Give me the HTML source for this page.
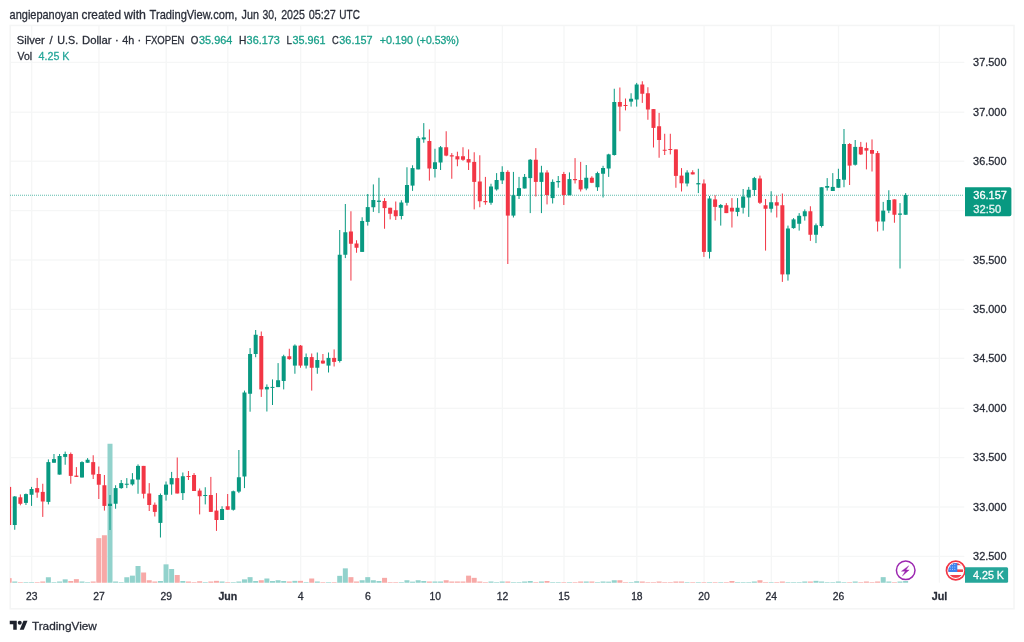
<!DOCTYPE html>
<html lang="en"><head><meta charset="utf-8"><title>Silver / U.S. Dollar chart</title>
<style>html,body{margin:0;padding:0;background:#fff}body{width:1024px;height:642px;position:relative;overflow:hidden;font-family:"Liberation Sans",Arial,sans-serif}</style>
</head><body>
<svg width="1024" height="642" viewBox="0 0 1024 642" style="position:absolute;left:0;top:0;filter:blur(0.4px)">
<defs><clipPath id="pane"><rect x="10" y="26" width="1004.5" height="583"/></clipPath><clipPath id="flag"><circle cx="955.75" cy="570.5" r="7.4"/></clipPath></defs>
<g fill="#f5f6f6">
<rect x="10" y="61.75" width="954.3" height="1.3"/>
<rect x="10" y="111.55" width="954.3" height="1.3"/>
<rect x="10" y="160.55" width="954.3" height="1.3"/>
<rect x="10" y="209.95" width="954.3" height="1.3"/>
<rect x="10" y="259.35" width="954.3" height="1.3"/>
<rect x="10" y="308.75" width="954.3" height="1.3"/>
<rect x="10" y="357.65" width="954.3" height="1.3"/>
<rect x="10" y="407.65" width="954.3" height="1.3"/>
<rect x="10" y="456.95" width="954.3" height="1.3"/>
<rect x="10" y="506.35" width="954.3" height="1.3"/>
<rect x="10" y="555.75" width="954.3" height="1.3"/>
<rect x="31.06" y="26" width="1.3" height="556.7"/>
<rect x="98.3" y="26" width="1.3" height="556.7"/>
<rect x="165.53" y="26" width="1.3" height="556.7"/>
<rect x="227.16" y="26" width="1.3" height="556.7"/>
<rect x="300" y="26" width="1.3" height="556.7"/>
<rect x="367.24" y="26" width="1.3" height="556.7"/>
<rect x="434.47" y="26" width="1.3" height="556.7"/>
<rect x="501.71" y="26" width="1.3" height="556.7"/>
<rect x="563.34" y="26" width="1.3" height="556.7"/>
<rect x="636.18" y="26" width="1.3" height="556.7"/>
<rect x="703.42" y="26" width="1.3" height="556.7"/>
<rect x="770.65" y="26" width="1.3" height="556.7"/>
<rect x="837.89" y="26" width="1.3" height="556.7"/>
<rect x="938.75" y="26" width="1.3" height="556.7"/>
</g>
<rect x="10.2" y="25.45" width="1003.8" height="583.35" fill="none" stroke="#f4f5f5" stroke-width="1.5"/>
<g clip-path="url(#pane)">
<rect x="6.65" y="578.15" width="5" height="4.6" fill="#f7a9a7"/>
<rect x="12.25" y="581.5" width="5" height="1.25" fill="#92d2cc"/>
<rect x="17.85" y="582.15" width="5" height="0.6" fill="#f7a9a7"/>
<rect x="23.46" y="582.15" width="5" height="0.6" fill="#92d2cc"/>
<rect x="29.06" y="582.15" width="5" height="0.6" fill="#92d2cc"/>
<rect x="34.66" y="582.15" width="5" height="0.6" fill="#f7a9a7"/>
<rect x="40.27" y="581.5" width="5" height="1.25" fill="#f7a9a7"/>
<rect x="45.87" y="577.25" width="5" height="5.5" fill="#92d2cc"/>
<rect x="51.47" y="582.15" width="5" height="0.6" fill="#92d2cc"/>
<rect x="57.07" y="581.5" width="5" height="1.25" fill="#92d2cc"/>
<rect x="62.68" y="579.35" width="5" height="3.4" fill="#92d2cc"/>
<rect x="68.28" y="581" width="5" height="1.75" fill="#f7a9a7"/>
<rect x="73.88" y="579.15" width="5" height="3.6" fill="#f7a9a7"/>
<rect x="79.49" y="581.5" width="5" height="1.25" fill="#92d2cc"/>
<rect x="85.09" y="582.15" width="5" height="0.6" fill="#92d2cc"/>
<rect x="90.69" y="581.5" width="5" height="1.25" fill="#f7a9a7"/>
<rect x="96.3" y="538.15" width="5" height="44.6" fill="#f7a9a7"/>
<rect x="101.9" y="535.25" width="5" height="47.5" fill="#f7a9a7"/>
<rect x="107.5" y="443.75" width="5" height="139" fill="#92d2cc"/>
<rect x="113.1" y="581.5" width="5" height="1.25" fill="#92d2cc"/>
<rect x="118.71" y="582.15" width="5" height="0.6" fill="#92d2cc"/>
<rect x="124.31" y="577.25" width="5" height="5.5" fill="#92d2cc"/>
<rect x="129.91" y="575.65" width="5" height="7.1" fill="#92d2cc"/>
<rect x="135.52" y="566" width="5" height="16.75" fill="#92d2cc"/>
<rect x="141.12" y="572.5" width="5" height="10.25" fill="#f7a9a7"/>
<rect x="146.72" y="580.25" width="5" height="2.5" fill="#f7a9a7"/>
<rect x="152.32" y="581.5" width="5" height="1.25" fill="#f7a9a7"/>
<rect x="157.93" y="581" width="5" height="1.75" fill="#92d2cc"/>
<rect x="163.53" y="564.35" width="5" height="18.4" fill="#92d2cc"/>
<rect x="169.13" y="569" width="5" height="13.75" fill="#92d2cc"/>
<rect x="174.74" y="575" width="5" height="7.75" fill="#f7a9a7"/>
<rect x="180.34" y="581" width="5" height="1.75" fill="#92d2cc"/>
<rect x="185.94" y="581.5" width="5" height="1.25" fill="#f7a9a7"/>
<rect x="191.55" y="582.15" width="5" height="0.6" fill="#f7a9a7"/>
<rect x="197.15" y="581.25" width="5" height="1.5" fill="#f7a9a7"/>
<rect x="202.75" y="582.15" width="5" height="0.6" fill="#92d2cc"/>
<rect x="208.35" y="581.5" width="5" height="1.25" fill="#f7a9a7"/>
<rect x="213.96" y="580.85" width="5" height="1.9" fill="#f7a9a7"/>
<rect x="219.56" y="581.5" width="5" height="1.25" fill="#92d2cc"/>
<rect x="225.16" y="582.15" width="5" height="0.6" fill="#f7a9a7"/>
<rect x="230.77" y="582.15" width="5" height="0.6" fill="#92d2cc"/>
<rect x="236.37" y="581.5" width="5" height="1.25" fill="#92d2cc"/>
<rect x="241.97" y="579.35" width="5" height="3.4" fill="#92d2cc"/>
<rect x="247.58" y="577.15" width="5" height="5.6" fill="#92d2cc"/>
<rect x="253.18" y="581" width="5" height="1.75" fill="#92d2cc"/>
<rect x="258.78" y="580.25" width="5" height="2.5" fill="#f7a9a7"/>
<rect x="264.38" y="578.5" width="5" height="4.25" fill="#92d2cc"/>
<rect x="269.99" y="581" width="5" height="1.75" fill="#92d2cc"/>
<rect x="275.59" y="580.25" width="5" height="2.5" fill="#92d2cc"/>
<rect x="281.19" y="581" width="5" height="1.75" fill="#92d2cc"/>
<rect x="286.8" y="581.5" width="5" height="1.25" fill="#f7a9a7"/>
<rect x="292.4" y="580.85" width="5" height="1.9" fill="#92d2cc"/>
<rect x="298" y="580.85" width="5" height="1.9" fill="#f7a9a7"/>
<rect x="303.61" y="582.15" width="5" height="0.6" fill="#92d2cc"/>
<rect x="309.21" y="578.5" width="5" height="4.25" fill="#f7a9a7"/>
<rect x="314.81" y="581.5" width="5" height="1.25" fill="#92d2cc"/>
<rect x="320.41" y="582.15" width="5" height="0.6" fill="#f7a9a7"/>
<rect x="326.02" y="582.15" width="5" height="0.6" fill="#92d2cc"/>
<rect x="331.62" y="582.15" width="5" height="0.6" fill="#f7a9a7"/>
<rect x="337.22" y="575.85" width="5" height="6.9" fill="#92d2cc"/>
<rect x="342.83" y="568.35" width="5" height="14.4" fill="#92d2cc"/>
<rect x="348.43" y="577.15" width="5" height="5.6" fill="#f7a9a7"/>
<rect x="354.03" y="581.5" width="5" height="1.25" fill="#f7a9a7"/>
<rect x="359.64" y="580.25" width="5" height="2.5" fill="#92d2cc"/>
<rect x="365.24" y="577.15" width="5" height="5.6" fill="#92d2cc"/>
<rect x="370.84" y="580.25" width="5" height="2.5" fill="#92d2cc"/>
<rect x="376.44" y="581" width="5" height="1.75" fill="#92d2cc"/>
<rect x="382.05" y="577.85" width="5" height="4.9" fill="#f7a9a7"/>
<rect x="387.65" y="582.15" width="5" height="0.6" fill="#f7a9a7"/>
<rect x="393.25" y="582.15" width="5" height="0.6" fill="#f7a9a7"/>
<rect x="398.86" y="582.15" width="5" height="0.6" fill="#92d2cc"/>
<rect x="404.46" y="580.25" width="5" height="2.5" fill="#92d2cc"/>
<rect x="410.06" y="581.65" width="5" height="1.1" fill="#92d2cc"/>
<rect x="415.67" y="580.25" width="5" height="2.5" fill="#92d2cc"/>
<rect x="421.27" y="581" width="5" height="1.75" fill="#92d2cc"/>
<rect x="426.87" y="581.5" width="5" height="1.25" fill="#f7a9a7"/>
<rect x="432.47" y="581.5" width="5" height="1.25" fill="#92d2cc"/>
<rect x="438.08" y="581.5" width="5" height="1.25" fill="#92d2cc"/>
<rect x="443.68" y="580.25" width="5" height="2.5" fill="#f7a9a7"/>
<rect x="449.28" y="581.5" width="5" height="1.25" fill="#f7a9a7"/>
<rect x="454.89" y="581.5" width="5" height="1.25" fill="#f7a9a7"/>
<rect x="460.49" y="581.5" width="5" height="1.25" fill="#f7a9a7"/>
<rect x="466.09" y="575.65" width="5" height="7.1" fill="#f7a9a7"/>
<rect x="471.7" y="577.85" width="5" height="4.9" fill="#f7a9a7"/>
<rect x="477.3" y="581.5" width="5" height="1.25" fill="#f7a9a7"/>
<rect x="482.9" y="582.15" width="5" height="0.6" fill="#f7a9a7"/>
<rect x="488.5" y="581.5" width="5" height="1.25" fill="#92d2cc"/>
<rect x="494.11" y="582.15" width="5" height="0.6" fill="#92d2cc"/>
<rect x="499.71" y="581.5" width="5" height="1.25" fill="#92d2cc"/>
<rect x="505.31" y="581.5" width="5" height="1.25" fill="#f7a9a7"/>
<rect x="510.92" y="582.15" width="5" height="0.6" fill="#92d2cc"/>
<rect x="516.52" y="582.15" width="5" height="0.6" fill="#92d2cc"/>
<rect x="522.12" y="581.5" width="5" height="1.25" fill="#92d2cc"/>
<rect x="527.73" y="581" width="5" height="1.75" fill="#92d2cc"/>
<rect x="533.33" y="582.15" width="5" height="0.6" fill="#f7a9a7"/>
<rect x="538.93" y="581.5" width="5" height="1.25" fill="#92d2cc"/>
<rect x="544.53" y="581" width="5" height="1.75" fill="#f7a9a7"/>
<rect x="550.14" y="582.15" width="5" height="0.6" fill="#92d2cc"/>
<rect x="555.74" y="582.15" width="5" height="0.6" fill="#92d2cc"/>
<rect x="561.34" y="582.15" width="5" height="0.6" fill="#f7a9a7"/>
<rect x="566.95" y="582.15" width="5" height="0.6" fill="#92d2cc"/>
<rect x="572.55" y="582.15" width="5" height="0.6" fill="#f7a9a7"/>
<rect x="578.15" y="581.5" width="5" height="1.25" fill="#f7a9a7"/>
<rect x="583.76" y="581.5" width="5" height="1.25" fill="#92d2cc"/>
<rect x="589.36" y="581.5" width="5" height="1.25" fill="#f7a9a7"/>
<rect x="594.96" y="582.15" width="5" height="0.6" fill="#92d2cc"/>
<rect x="600.56" y="581.5" width="5" height="1.25" fill="#92d2cc"/>
<rect x="606.17" y="581.65" width="5" height="1.1" fill="#92d2cc"/>
<rect x="611.77" y="580.25" width="5" height="2.5" fill="#92d2cc"/>
<rect x="617.37" y="580.25" width="5" height="2.5" fill="#f7a9a7"/>
<rect x="622.98" y="582.15" width="5" height="0.6" fill="#f7a9a7"/>
<rect x="628.58" y="582.15" width="5" height="0.6" fill="#92d2cc"/>
<rect x="634.18" y="581.25" width="5" height="1.5" fill="#92d2cc"/>
<rect x="639.79" y="581.5" width="5" height="1.25" fill="#f7a9a7"/>
<rect x="645.39" y="582.15" width="5" height="0.6" fill="#f7a9a7"/>
<rect x="650.99" y="582.15" width="5" height="0.6" fill="#f7a9a7"/>
<rect x="656.6" y="581.5" width="5" height="1.25" fill="#f7a9a7"/>
<rect x="662.2" y="582.15" width="5" height="0.6" fill="#f7a9a7"/>
<rect x="667.8" y="582.15" width="5" height="0.6" fill="#f7a9a7"/>
<rect x="673.4" y="581.5" width="5" height="1.25" fill="#f7a9a7"/>
<rect x="679.01" y="581.5" width="5" height="1.25" fill="#f7a9a7"/>
<rect x="684.61" y="582.15" width="5" height="0.6" fill="#92d2cc"/>
<rect x="690.21" y="582.15" width="5" height="0.6" fill="#f7a9a7"/>
<rect x="695.82" y="582.15" width="5" height="0.6" fill="#92d2cc"/>
<rect x="701.42" y="582.15" width="5" height="0.6" fill="#f7a9a7"/>
<rect x="707.02" y="582.15" width="5" height="0.6" fill="#92d2cc"/>
<rect x="712.62" y="582.15" width="5" height="0.6" fill="#f7a9a7"/>
<rect x="718.23" y="582.15" width="5" height="0.6" fill="#92d2cc"/>
<rect x="723.83" y="582.15" width="5" height="0.6" fill="#f7a9a7"/>
<rect x="729.43" y="581" width="5" height="1.75" fill="#f7a9a7"/>
<rect x="735.04" y="582.15" width="5" height="0.6" fill="#92d2cc"/>
<rect x="740.64" y="582.15" width="5" height="0.6" fill="#92d2cc"/>
<rect x="746.24" y="582.15" width="5" height="0.6" fill="#92d2cc"/>
<rect x="751.85" y="581.5" width="5" height="1.25" fill="#92d2cc"/>
<rect x="757.45" y="580.25" width="5" height="2.5" fill="#f7a9a7"/>
<rect x="763.05" y="582.15" width="5" height="0.6" fill="#f7a9a7"/>
<rect x="768.65" y="582.15" width="5" height="0.6" fill="#92d2cc"/>
<rect x="774.26" y="582.15" width="5" height="0.6" fill="#f7a9a7"/>
<rect x="779.86" y="581.5" width="5" height="1.25" fill="#f7a9a7"/>
<rect x="785.46" y="582.15" width="5" height="0.6" fill="#92d2cc"/>
<rect x="791.07" y="582.15" width="5" height="0.6" fill="#92d2cc"/>
<rect x="796.67" y="582.15" width="5" height="0.6" fill="#92d2cc"/>
<rect x="802.27" y="581.5" width="5" height="1.25" fill="#92d2cc"/>
<rect x="807.88" y="581.5" width="5" height="1.25" fill="#f7a9a7"/>
<rect x="813.48" y="580.85" width="5" height="1.9" fill="#92d2cc"/>
<rect x="819.08" y="581.5" width="5" height="1.25" fill="#92d2cc"/>
<rect x="824.68" y="582.15" width="5" height="0.6" fill="#92d2cc"/>
<rect x="830.29" y="582.15" width="5" height="0.6" fill="#92d2cc"/>
<rect x="835.89" y="581.5" width="5" height="1.25" fill="#92d2cc"/>
<rect x="841.49" y="582.15" width="5" height="0.6" fill="#92d2cc"/>
<rect x="847.1" y="582.15" width="5" height="0.6" fill="#f7a9a7"/>
<rect x="852.7" y="581.5" width="5" height="1.25" fill="#92d2cc"/>
<rect x="858.3" y="582.15" width="5" height="0.6" fill="#f7a9a7"/>
<rect x="863.91" y="581.5" width="5" height="1.25" fill="#f7a9a7"/>
<rect x="869.51" y="582.15" width="5" height="0.6" fill="#f7a9a7"/>
<rect x="875.11" y="581.5" width="5" height="1.25" fill="#f7a9a7"/>
<rect x="880.71" y="577.15" width="5" height="5.6" fill="#92d2cc"/>
<rect x="886.32" y="581.5" width="5" height="1.25" fill="#92d2cc"/>
<rect x="891.92" y="582.15" width="5" height="0.6" fill="#f7a9a7"/>
<rect x="897.52" y="581.5" width="5" height="1.25" fill="#92d2cc"/>
<rect x="903.13" y="581" width="5" height="1.75" fill="#92d2cc"/>
<line x1="10" y1="195.3" x2="964" y2="195.3" stroke="#089981" stroke-width="1.1" stroke-opacity="0.65" stroke-dasharray="1 1"/>
<rect x="8.65" y="486.9" width="1" height="38.1" fill="#f23645"/>
<rect x="7.15" y="486.9" width="4" height="38.1" fill="#f23645"/>
<rect x="14.25" y="496" width="1" height="33.75" fill="#089981"/>
<rect x="12.75" y="496.5" width="4" height="28.5" fill="#089981"/>
<rect x="19.85" y="494.4" width="1" height="10.9" fill="#f23645"/>
<rect x="18.35" y="497.3" width="4" height="6.5" fill="#f23645"/>
<rect x="25.46" y="493.5" width="1" height="11.5" fill="#089981"/>
<rect x="23.96" y="494.1" width="4" height="8.8" fill="#089981"/>
<rect x="31.06" y="486.9" width="1" height="19" fill="#089981"/>
<rect x="29.56" y="489" width="4" height="5.75" fill="#089981"/>
<rect x="36.66" y="477.9" width="1" height="19.85" fill="#f23645"/>
<rect x="35.16" y="488.1" width="4" height="4.4" fill="#f23645"/>
<rect x="42.27" y="483.75" width="1" height="33.15" fill="#f23645"/>
<rect x="40.77" y="491.9" width="4" height="9.6" fill="#f23645"/>
<rect x="47.87" y="459.4" width="1" height="45" fill="#089981"/>
<rect x="46.37" y="462.1" width="4" height="39.8" fill="#089981"/>
<rect x="53.47" y="454" width="1" height="8.75" fill="#089981"/>
<rect x="51.97" y="459.1" width="4" height="3.65" fill="#089981"/>
<rect x="59.07" y="454" width="1" height="20.6" fill="#089981"/>
<rect x="57.57" y="456" width="4" height="18.6" fill="#089981"/>
<rect x="64.68" y="451.6" width="1" height="13.15" fill="#089981"/>
<rect x="63.18" y="454" width="4" height="2.9" fill="#089981"/>
<rect x="70.28" y="452.5" width="1" height="31.25" fill="#f23645"/>
<rect x="68.78" y="454" width="4" height="21.9" fill="#f23645"/>
<rect x="75.88" y="467.1" width="1" height="9.8" fill="#f23645"/>
<rect x="74.38" y="475.6" width="4" height="1.3" fill="#f23645"/>
<rect x="81.49" y="461.25" width="1" height="16.25" fill="#089981"/>
<rect x="79.99" y="462.1" width="4" height="15.4" fill="#089981"/>
<rect x="87.09" y="458.1" width="1" height="4.65" fill="#089981"/>
<rect x="85.59" y="459.75" width="4" height="3" fill="#089981"/>
<rect x="92.69" y="455.25" width="1" height="23.75" fill="#f23645"/>
<rect x="91.19" y="462.1" width="4" height="12.5" fill="#f23645"/>
<rect x="98.3" y="466.5" width="1" height="32.5" fill="#f23645"/>
<rect x="96.8" y="474" width="4" height="10.75" fill="#f23645"/>
<rect x="103.9" y="475" width="1" height="35.6" fill="#f23645"/>
<rect x="102.4" y="485.25" width="4" height="20.65" fill="#f23645"/>
<rect x="109.5" y="495" width="1" height="35" fill="#089981"/>
<rect x="108" y="503.75" width="4" height="2.25" fill="#089981"/>
<rect x="115.1" y="485.25" width="1" height="23.5" fill="#089981"/>
<rect x="113.6" y="488.1" width="4" height="15.65" fill="#089981"/>
<rect x="120.71" y="480" width="1" height="8.75" fill="#089981"/>
<rect x="119.21" y="483.1" width="4" height="5" fill="#089981"/>
<rect x="126.31" y="478.1" width="1" height="10" fill="#089981"/>
<rect x="124.81" y="483.75" width="4" height="1" fill="#089981"/>
<rect x="131.91" y="473.1" width="1" height="12.5" fill="#089981"/>
<rect x="130.41" y="479.4" width="4" height="5" fill="#089981"/>
<rect x="137.52" y="464.4" width="1" height="29.35" fill="#089981"/>
<rect x="136.02" y="465.9" width="4" height="13.7" fill="#089981"/>
<rect x="143.12" y="465.9" width="1" height="32.6" fill="#f23645"/>
<rect x="141.62" y="465.9" width="4" height="27.85" fill="#f23645"/>
<rect x="148.72" y="483.1" width="1" height="27.9" fill="#f23645"/>
<rect x="147.22" y="493.5" width="4" height="11.5" fill="#f23645"/>
<rect x="154.32" y="502.5" width="1" height="14" fill="#f23645"/>
<rect x="152.82" y="504.75" width="4" height="7.15" fill="#f23645"/>
<rect x="159.93" y="493.5" width="1" height="44" fill="#089981"/>
<rect x="158.43" y="495" width="4" height="27.9" fill="#089981"/>
<rect x="165.53" y="481.5" width="1" height="19.1" fill="#089981"/>
<rect x="164.03" y="484.6" width="4" height="10.15" fill="#089981"/>
<rect x="171.13" y="471.9" width="1" height="22.85" fill="#089981"/>
<rect x="169.63" y="478.1" width="4" height="6.3" fill="#089981"/>
<rect x="176.74" y="457.5" width="1" height="36" fill="#f23645"/>
<rect x="175.24" y="478.1" width="4" height="15.4" fill="#f23645"/>
<rect x="182.34" y="472.5" width="1" height="27.5" fill="#089981"/>
<rect x="180.84" y="476.25" width="4" height="16.85" fill="#089981"/>
<rect x="187.94" y="471" width="1" height="9" fill="#f23645"/>
<rect x="186.44" y="476" width="4" height="1" fill="#f23645"/>
<rect x="193.55" y="473.1" width="1" height="17.9" fill="#f23645"/>
<rect x="192.05" y="475" width="4" height="16" fill="#f23645"/>
<rect x="199.15" y="488.5" width="1" height="25.9" fill="#f23645"/>
<rect x="197.65" y="490.6" width="4" height="5.65" fill="#f23645"/>
<rect x="204.75" y="487.25" width="1" height="17.15" fill="#089981"/>
<rect x="203.25" y="495" width="4" height="1" fill="#089981"/>
<rect x="210.35" y="476.9" width="1" height="35" fill="#f23645"/>
<rect x="208.85" y="495" width="4" height="16.9" fill="#f23645"/>
<rect x="215.96" y="493.1" width="1" height="37.8" fill="#f23645"/>
<rect x="214.46" y="510.6" width="4" height="9.4" fill="#f23645"/>
<rect x="221.56" y="506.25" width="1" height="13.75" fill="#089981"/>
<rect x="220.06" y="509" width="4" height="11" fill="#089981"/>
<rect x="227.16" y="494" width="1" height="15.75" fill="#f23645"/>
<rect x="225.66" y="506.25" width="4" height="3.5" fill="#f23645"/>
<rect x="232.77" y="490.6" width="1" height="20" fill="#089981"/>
<rect x="231.27" y="491.25" width="4" height="18.5" fill="#089981"/>
<rect x="238.37" y="450" width="1" height="43.1" fill="#089981"/>
<rect x="236.87" y="477.25" width="4" height="14.35" fill="#089981"/>
<rect x="243.97" y="390.6" width="1" height="97.5" fill="#089981"/>
<rect x="242.47" y="392.5" width="4" height="84" fill="#089981"/>
<rect x="249.58" y="348.1" width="1" height="63.6" fill="#089981"/>
<rect x="248.08" y="354" width="4" height="39.75" fill="#089981"/>
<rect x="255.18" y="330" width="1" height="27.25" fill="#089981"/>
<rect x="253.68" y="334.75" width="4" height="19.25" fill="#089981"/>
<rect x="260.78" y="331.5" width="1" height="65.4" fill="#f23645"/>
<rect x="259.28" y="336" width="4" height="53.4" fill="#f23645"/>
<rect x="266.38" y="384.4" width="1" height="27.1" fill="#089981"/>
<rect x="264.88" y="386.9" width="4" height="2.5" fill="#089981"/>
<rect x="271.99" y="379.4" width="1" height="25.6" fill="#089981"/>
<rect x="270.49" y="386.9" width="4" height="1" fill="#089981"/>
<rect x="277.59" y="363.1" width="1" height="24" fill="#089981"/>
<rect x="276.09" y="380.25" width="4" height="6.85" fill="#089981"/>
<rect x="283.19" y="354.75" width="1" height="34.65" fill="#089981"/>
<rect x="281.69" y="356.25" width="4" height="24.75" fill="#089981"/>
<rect x="288.8" y="348.75" width="1" height="11" fill="#f23645"/>
<rect x="287.3" y="356.25" width="4" height="2.85" fill="#f23645"/>
<rect x="294.4" y="344.4" width="1" height="29.35" fill="#089981"/>
<rect x="292.9" y="345.6" width="4" height="20" fill="#089981"/>
<rect x="300" y="345" width="1" height="22.75" fill="#f23645"/>
<rect x="298.5" y="345.6" width="4" height="20" fill="#f23645"/>
<rect x="305.61" y="353.5" width="1" height="15" fill="#089981"/>
<rect x="304.11" y="357.1" width="4" height="8.5" fill="#089981"/>
<rect x="311.21" y="353.5" width="1" height="37.1" fill="#f23645"/>
<rect x="309.71" y="357.1" width="4" height="10.65" fill="#f23645"/>
<rect x="316.81" y="352.5" width="1" height="21.25" fill="#089981"/>
<rect x="315.31" y="360" width="4" height="7.75" fill="#089981"/>
<rect x="322.41" y="354" width="1" height="9.75" fill="#f23645"/>
<rect x="320.91" y="360.6" width="4" height="2.9" fill="#f23645"/>
<rect x="328.02" y="352.5" width="1" height="20" fill="#089981"/>
<rect x="326.52" y="357.9" width="4" height="7.7" fill="#089981"/>
<rect x="333.62" y="349.4" width="1" height="17.1" fill="#f23645"/>
<rect x="332.12" y="357.9" width="4" height="4" fill="#f23645"/>
<rect x="339.22" y="230" width="1" height="132.5" fill="#089981"/>
<rect x="337.72" y="254.75" width="4" height="106.25" fill="#089981"/>
<rect x="344.83" y="204" width="1" height="54.1" fill="#089981"/>
<rect x="343.33" y="232.25" width="4" height="22.5" fill="#089981"/>
<rect x="350.43" y="211.25" width="1" height="69.35" fill="#f23645"/>
<rect x="348.93" y="231.5" width="4" height="12.25" fill="#f23645"/>
<rect x="356.03" y="240.25" width="1" height="12.5" fill="#f23645"/>
<rect x="354.53" y="243.5" width="4" height="4.25" fill="#f23645"/>
<rect x="361.64" y="217.25" width="1" height="34.65" fill="#089981"/>
<rect x="360.14" y="221" width="4" height="30.9" fill="#089981"/>
<rect x="367.24" y="194" width="1" height="31.6" fill="#089981"/>
<rect x="365.74" y="207.1" width="4" height="14.8" fill="#089981"/>
<rect x="372.84" y="184.4" width="1" height="27.5" fill="#089981"/>
<rect x="371.34" y="200" width="4" height="7.25" fill="#089981"/>
<rect x="378.44" y="177.75" width="1" height="35.35" fill="#089981"/>
<rect x="376.94" y="200.6" width="4" height="1.3" fill="#089981"/>
<rect x="384.05" y="198.1" width="1" height="30.65" fill="#f23645"/>
<rect x="382.55" y="201" width="4" height="7.1" fill="#f23645"/>
<rect x="389.65" y="207.75" width="1" height="11.65" fill="#f23645"/>
<rect x="388.15" y="207.75" width="4" height="6" fill="#f23645"/>
<rect x="395.25" y="201.5" width="1" height="18.5" fill="#f23645"/>
<rect x="393.75" y="210.25" width="4" height="6" fill="#f23645"/>
<rect x="400.86" y="200.25" width="1" height="19.15" fill="#089981"/>
<rect x="399.36" y="202.5" width="4" height="13.5" fill="#089981"/>
<rect x="406.46" y="167.25" width="1" height="38.35" fill="#089981"/>
<rect x="404.96" y="185" width="4" height="17.75" fill="#089981"/>
<rect x="412.06" y="165.25" width="1" height="25.65" fill="#089981"/>
<rect x="410.56" y="168.1" width="4" height="17.5" fill="#089981"/>
<rect x="417.67" y="136.25" width="1" height="33.15" fill="#089981"/>
<rect x="416.17" y="138.1" width="4" height="31.3" fill="#089981"/>
<rect x="423.27" y="123.1" width="1" height="19.65" fill="#089981"/>
<rect x="421.77" y="137.4" width="4" height="2" fill="#089981"/>
<rect x="428.87" y="129.4" width="1" height="51.2" fill="#f23645"/>
<rect x="427.37" y="141" width="4" height="27.5" fill="#f23645"/>
<rect x="434.47" y="148.75" width="1" height="28.75" fill="#089981"/>
<rect x="432.97" y="162.25" width="4" height="6.75" fill="#089981"/>
<rect x="440.08" y="146" width="1" height="24" fill="#089981"/>
<rect x="438.58" y="147.25" width="4" height="15.25" fill="#089981"/>
<rect x="445.68" y="131.25" width="1" height="25" fill="#f23645"/>
<rect x="444.18" y="147.25" width="4" height="8.35" fill="#f23645"/>
<rect x="451.28" y="153.1" width="1" height="25.65" fill="#f23645"/>
<rect x="449.78" y="155.25" width="4" height="1.25" fill="#f23645"/>
<rect x="456.89" y="151.7" width="1" height="14.55" fill="#f23645"/>
<rect x="455.39" y="156.25" width="4" height="3.15" fill="#f23645"/>
<rect x="462.49" y="147.25" width="1" height="13.55" fill="#f23645"/>
<rect x="460.99" y="156.25" width="4" height="3.5" fill="#f23645"/>
<rect x="468.09" y="149.4" width="1" height="20.6" fill="#f23645"/>
<rect x="466.59" y="159.1" width="4" height="3.4" fill="#f23645"/>
<rect x="473.7" y="152.25" width="1" height="57.15" fill="#f23645"/>
<rect x="472.2" y="161.9" width="4" height="20" fill="#f23645"/>
<rect x="479.3" y="155.25" width="1" height="52" fill="#f23645"/>
<rect x="477.8" y="181.5" width="4" height="19.75" fill="#f23645"/>
<rect x="484.9" y="176.9" width="1" height="27.85" fill="#f23645"/>
<rect x="483.4" y="201" width="4" height="1.25" fill="#f23645"/>
<rect x="490.5" y="183.75" width="1" height="21" fill="#089981"/>
<rect x="489" y="186.5" width="4" height="16.25" fill="#089981"/>
<rect x="496.11" y="173.1" width="1" height="17.5" fill="#089981"/>
<rect x="494.61" y="180" width="4" height="9.4" fill="#089981"/>
<rect x="501.71" y="166.25" width="1" height="17.75" fill="#089981"/>
<rect x="500.21" y="171.9" width="4" height="8.5" fill="#089981"/>
<rect x="507.31" y="170.25" width="1" height="93.75" fill="#f23645"/>
<rect x="505.81" y="171.9" width="4" height="43.7" fill="#f23645"/>
<rect x="512.92" y="171.9" width="1" height="45.6" fill="#089981"/>
<rect x="511.42" y="195.25" width="4" height="20.35" fill="#089981"/>
<rect x="518.52" y="176.9" width="1" height="22.1" fill="#089981"/>
<rect x="517.02" y="188.1" width="4" height="7.9" fill="#089981"/>
<rect x="524.12" y="174" width="1" height="14.5" fill="#089981"/>
<rect x="522.62" y="176.9" width="4" height="11.6" fill="#089981"/>
<rect x="529.73" y="159" width="1" height="54.1" fill="#089981"/>
<rect x="528.23" y="159.75" width="4" height="18.35" fill="#089981"/>
<rect x="535.33" y="148.1" width="1" height="48.4" fill="#f23645"/>
<rect x="533.83" y="159.75" width="4" height="22.15" fill="#f23645"/>
<rect x="540.93" y="165.8" width="1" height="47.3" fill="#089981"/>
<rect x="539.43" y="172.5" width="4" height="9.4" fill="#089981"/>
<rect x="546.53" y="170.25" width="1" height="34.15" fill="#f23645"/>
<rect x="545.03" y="172.5" width="4" height="22.5" fill="#f23645"/>
<rect x="552.14" y="179.4" width="1" height="24.1" fill="#089981"/>
<rect x="550.64" y="181.9" width="4" height="16.2" fill="#089981"/>
<rect x="557.74" y="176" width="1" height="11.75" fill="#089981"/>
<rect x="556.24" y="181" width="4" height="1.25" fill="#089981"/>
<rect x="563.34" y="171.9" width="1" height="33.1" fill="#f23645"/>
<rect x="561.84" y="174" width="4" height="21" fill="#f23645"/>
<rect x="568.95" y="172.4" width="1" height="22.85" fill="#089981"/>
<rect x="567.45" y="179.1" width="4" height="16.15" fill="#089981"/>
<rect x="574.55" y="158.1" width="1" height="25.4" fill="#f23645"/>
<rect x="573.05" y="179" width="4" height="1.2" fill="#f23645"/>
<rect x="580.15" y="161.9" width="1" height="29.6" fill="#f23645"/>
<rect x="578.65" y="180" width="4" height="9.4" fill="#f23645"/>
<rect x="585.76" y="165" width="1" height="25.25" fill="#089981"/>
<rect x="584.26" y="177.75" width="4" height="10.75" fill="#089981"/>
<rect x="591.36" y="176.25" width="1" height="6.85" fill="#f23645"/>
<rect x="589.86" y="177.75" width="4" height="5" fill="#f23645"/>
<rect x="596.96" y="171.7" width="1" height="19.2" fill="#089981"/>
<rect x="595.46" y="173.1" width="4" height="14.15" fill="#089981"/>
<rect x="602.56" y="165.8" width="1" height="31.7" fill="#089981"/>
<rect x="601.06" y="168" width="4" height="5.75" fill="#089981"/>
<rect x="608.17" y="153.75" width="1" height="23.15" fill="#089981"/>
<rect x="606.67" y="154.4" width="4" height="14.1" fill="#089981"/>
<rect x="613.77" y="88.75" width="1" height="66.85" fill="#089981"/>
<rect x="612.27" y="102" width="4" height="53" fill="#089981"/>
<rect x="619.37" y="87.5" width="1" height="43.75" fill="#f23645"/>
<rect x="617.87" y="102" width="4" height="4.6" fill="#f23645"/>
<rect x="624.98" y="98.5" width="1" height="11.9" fill="#f23645"/>
<rect x="623.48" y="105" width="4" height="1" fill="#f23645"/>
<rect x="630.58" y="93.25" width="1" height="13.35" fill="#089981"/>
<rect x="629.08" y="98.75" width="4" height="2.85" fill="#089981"/>
<rect x="636.18" y="82.9" width="1" height="23.7" fill="#089981"/>
<rect x="634.68" y="84.5" width="4" height="15" fill="#089981"/>
<rect x="641.79" y="81.25" width="1" height="21.65" fill="#f23645"/>
<rect x="640.29" y="84.5" width="4" height="9.25" fill="#f23645"/>
<rect x="647.39" y="87.25" width="1" height="32.5" fill="#f23645"/>
<rect x="645.89" y="93.25" width="4" height="16.25" fill="#f23645"/>
<rect x="652.99" y="109.1" width="1" height="38.4" fill="#f23645"/>
<rect x="651.49" y="109.1" width="4" height="18.8" fill="#f23645"/>
<rect x="658.6" y="112.9" width="1" height="44.85" fill="#f23645"/>
<rect x="657.1" y="126.25" width="4" height="13.75" fill="#f23645"/>
<rect x="664.2" y="133.75" width="1" height="21.25" fill="#f23645"/>
<rect x="662.7" y="149.75" width="4" height="1" fill="#f23645"/>
<rect x="669.8" y="133.75" width="1" height="20.65" fill="#f23645"/>
<rect x="668.3" y="149" width="4" height="1" fill="#f23645"/>
<rect x="675.4" y="149.4" width="1" height="38.35" fill="#f23645"/>
<rect x="673.9" y="149.4" width="4" height="26.5" fill="#f23645"/>
<rect x="681.01" y="168.1" width="1" height="23.4" fill="#f23645"/>
<rect x="679.51" y="175.6" width="4" height="7.7" fill="#f23645"/>
<rect x="686.61" y="170.25" width="1" height="16.15" fill="#089981"/>
<rect x="685.11" y="172.5" width="4" height="11" fill="#089981"/>
<rect x="692.21" y="170.25" width="1" height="4.15" fill="#f23645"/>
<rect x="690.71" y="172.25" width="4" height="2.15" fill="#f23645"/>
<rect x="697.82" y="168.75" width="1" height="24.35" fill="#089981"/>
<rect x="696.32" y="183.1" width="4" height="1.3" fill="#089981"/>
<rect x="703.42" y="179.4" width="1" height="77.5" fill="#f23645"/>
<rect x="701.92" y="183.5" width="4" height="68.4" fill="#f23645"/>
<rect x="709.02" y="196" width="1" height="62.5" fill="#089981"/>
<rect x="707.52" y="198.5" width="4" height="53.4" fill="#089981"/>
<rect x="714.62" y="195.25" width="1" height="25.35" fill="#f23645"/>
<rect x="713.12" y="199.4" width="4" height="7.5" fill="#f23645"/>
<rect x="720.23" y="204" width="1" height="21.6" fill="#089981"/>
<rect x="718.73" y="205" width="4" height="2.75" fill="#089981"/>
<rect x="725.83" y="203.1" width="1" height="10" fill="#f23645"/>
<rect x="724.33" y="205.25" width="4" height="7.85" fill="#f23645"/>
<rect x="731.43" y="198.1" width="1" height="29.4" fill="#f23645"/>
<rect x="729.93" y="207.75" width="4" height="3.75" fill="#f23645"/>
<rect x="737.04" y="198.1" width="1" height="18.15" fill="#089981"/>
<rect x="735.54" y="207.75" width="4" height="4.15" fill="#089981"/>
<rect x="742.64" y="189" width="1" height="24.5" fill="#089981"/>
<rect x="741.14" y="196.5" width="4" height="11.25" fill="#089981"/>
<rect x="748.24" y="186.9" width="1" height="30" fill="#089981"/>
<rect x="746.74" y="189.75" width="4" height="7.75" fill="#089981"/>
<rect x="753.85" y="176.9" width="1" height="19.1" fill="#089981"/>
<rect x="752.35" y="178.1" width="4" height="11.9" fill="#089981"/>
<rect x="759.45" y="175.6" width="1" height="28.4" fill="#f23645"/>
<rect x="757.95" y="178.5" width="4" height="24.25" fill="#f23645"/>
<rect x="765.05" y="199" width="1" height="51.6" fill="#f23645"/>
<rect x="763.55" y="205.25" width="4" height="3.5" fill="#f23645"/>
<rect x="770.65" y="191.25" width="1" height="21.25" fill="#089981"/>
<rect x="769.15" y="202.25" width="4" height="6.5" fill="#089981"/>
<rect x="776.26" y="195.6" width="1" height="21.9" fill="#f23645"/>
<rect x="774.76" y="202.25" width="4" height="3.35" fill="#f23645"/>
<rect x="781.86" y="193.5" width="1" height="88.4" fill="#f23645"/>
<rect x="780.36" y="205.25" width="4" height="69.15" fill="#f23645"/>
<rect x="787.46" y="225.6" width="1" height="55" fill="#089981"/>
<rect x="785.96" y="228.5" width="4" height="45.9" fill="#089981"/>
<rect x="793.07" y="218.1" width="1" height="10.65" fill="#089981"/>
<rect x="791.57" y="219.4" width="4" height="8.7" fill="#089981"/>
<rect x="798.67" y="213.1" width="1" height="17.5" fill="#089981"/>
<rect x="797.17" y="215.8" width="4" height="7.95" fill="#089981"/>
<rect x="804.27" y="209.4" width="1" height="11.2" fill="#089981"/>
<rect x="802.77" y="211.25" width="4" height="5" fill="#089981"/>
<rect x="809.88" y="206.25" width="1" height="34.65" fill="#f23645"/>
<rect x="808.38" y="211.25" width="4" height="23.5" fill="#f23645"/>
<rect x="815.48" y="223.5" width="1" height="19.6" fill="#089981"/>
<rect x="813.98" y="225.25" width="4" height="9.5" fill="#089981"/>
<rect x="821.08" y="187.25" width="1" height="40.25" fill="#089981"/>
<rect x="819.58" y="187.25" width="4" height="38.75" fill="#089981"/>
<rect x="826.68" y="178.1" width="1" height="12.5" fill="#089981"/>
<rect x="825.18" y="186" width="4" height="1.75" fill="#089981"/>
<rect x="832.29" y="173.1" width="1" height="17.9" fill="#089981"/>
<rect x="830.79" y="186.9" width="4" height="4.1" fill="#089981"/>
<rect x="837.89" y="168.75" width="1" height="19" fill="#089981"/>
<rect x="836.39" y="179" width="4" height="8.75" fill="#089981"/>
<rect x="843.49" y="129" width="1" height="58.25" fill="#089981"/>
<rect x="841.99" y="144" width="4" height="35.75" fill="#089981"/>
<rect x="849.1" y="143.1" width="1" height="41.9" fill="#f23645"/>
<rect x="847.6" y="144" width="4" height="21.6" fill="#f23645"/>
<rect x="854.7" y="140" width="1" height="25.6" fill="#089981"/>
<rect x="853.2" y="146.9" width="4" height="17.85" fill="#089981"/>
<rect x="860.3" y="141.9" width="1" height="13.1" fill="#f23645"/>
<rect x="858.8" y="146.9" width="4" height="7.5" fill="#f23645"/>
<rect x="865.91" y="142.5" width="1" height="26.9" fill="#f23645"/>
<rect x="864.41" y="148.1" width="4" height="2.5" fill="#f23645"/>
<rect x="871.51" y="139.4" width="1" height="32.1" fill="#f23645"/>
<rect x="870.01" y="150" width="4" height="3.75" fill="#f23645"/>
<rect x="877.11" y="151" width="1" height="80.5" fill="#f23645"/>
<rect x="875.61" y="153.1" width="4" height="68.4" fill="#f23645"/>
<rect x="882.71" y="201.9" width="1" height="28.7" fill="#089981"/>
<rect x="881.21" y="210.6" width="4" height="10.9" fill="#089981"/>
<rect x="888.32" y="190.25" width="1" height="22.85" fill="#089981"/>
<rect x="886.82" y="200" width="4" height="10.6" fill="#089981"/>
<rect x="893.92" y="199.4" width="1" height="23.35" fill="#f23645"/>
<rect x="892.42" y="199.4" width="4" height="15.35" fill="#f23645"/>
<rect x="899.52" y="203.1" width="1" height="65.4" fill="#089981"/>
<rect x="898.02" y="213.5" width="4" height="1.25" fill="#089981"/>
<rect x="905.13" y="193.1" width="1" height="21.65" fill="#089981"/>
<rect x="903.63" y="195" width="4" height="19.75" fill="#089981"/>
</g>
<circle cx="905.7" cy="570.3" r="9.3" fill="#fff" stroke="#9c27b0" stroke-width="1.5"/>
<polygon points="908.8,565.7 901.4,571.25 905.2,571.25 902.4,575.9 909.2,569.95 906,569.95" fill="#9c27b0" stroke="#9c27b0" stroke-width="0.35" stroke-linejoin="round"/>
<circle cx="955.75" cy="570.5" r="9.3" fill="#fff" stroke="#f23645" stroke-width="1.7"/>
<g clip-path="url(#flag)">
<rect x="945" y="560" width="22" height="22" fill="#fff"/>
<rect x="945" y="562.4" width="22" height="2.8" fill="#f0414f"/>
<rect x="945" y="569.4" width="22" height="2.6" fill="#f0414f"/>
<rect x="945" y="575" width="22" height="2.9" fill="#f0414f"/>
<rect x="945" y="560" width="12.3" height="12" fill="#3b82f0"/>
<circle cx="950.2" cy="564.6" r="0.5" fill="#fff" fill-opacity="0.8"/>
<circle cx="950.2" cy="566.9" r="0.5" fill="#fff" fill-opacity="0.8"/>
<circle cx="950.2" cy="569.2" r="0.5" fill="#fff" fill-opacity="0.8"/>
<circle cx="952.5" cy="564.6" r="0.5" fill="#fff" fill-opacity="0.8"/>
<circle cx="952.5" cy="566.9" r="0.5" fill="#fff" fill-opacity="0.8"/>
<circle cx="952.5" cy="569.2" r="0.5" fill="#fff" fill-opacity="0.8"/>
<circle cx="954.8" cy="564.6" r="0.5" fill="#fff" fill-opacity="0.8"/>
<circle cx="954.8" cy="566.9" r="0.5" fill="#fff" fill-opacity="0.8"/>
<circle cx="954.8" cy="569.2" r="0.5" fill="#fff" fill-opacity="0.8"/>
</g>
<path d="M965 567.2H1006.6a1.5 1.5 0 0 1 1.5 1.5V581.3a1.5 1.5 0 0 1 -1.5 1.5H965Z" fill="#26a69a"/>
<path d="M965 187.2H1009.6a1.8 1.8 0 0 1 1.8 1.8V214.45a1.8 1.8 0 0 1 -1.8 1.8H965Z" fill="#089981"/>
<g transform="translate(9.75,618.75) scale(0.5)" fill="#1e222d"><path d="M14 22H7V11H0V4h14v18zM28 22h-8l7.5-18h8L28 22z"/><circle cx="20" cy="8" r="4"/></g>
<g font-family="'Liberation Sans', Arial, sans-serif" stroke-width="0.3" stroke-linejoin="round">
<text x="9.6" y="18.5" font-size="12.6" fill="#2a2e39" stroke="#2a2e39" textLength="68.9" lengthAdjust="spacingAndGlyphs">angiepanoyan</text>
<text x="81.5" y="18.5" font-size="12.6" fill="#2a2e39" stroke="#2a2e39" textLength="39.5" lengthAdjust="spacingAndGlyphs">created</text>
<text x="124" y="18.5" font-size="12.6" fill="#2a2e39" stroke="#2a2e39" textLength="22" lengthAdjust="spacingAndGlyphs">with</text>
<text x="149.6" y="18.5" font-size="12.6" fill="#2a2e39" stroke="#2a2e39" textLength="87.7" lengthAdjust="spacingAndGlyphs">TradingView.com,</text>
<text x="241.6" y="18.5" font-size="12.6" fill="#2a2e39" stroke="#2a2e39" textLength="17.3" lengthAdjust="spacingAndGlyphs">Jun</text>
<text x="262.5" y="18.5" font-size="12.6" fill="#2a2e39" stroke="#2a2e39" textLength="14.5" lengthAdjust="spacingAndGlyphs">30,</text>
<text x="281.2" y="18.5" font-size="12.6" fill="#2a2e39" stroke="#2a2e39" textLength="23.7" lengthAdjust="spacingAndGlyphs">2025</text>
<text x="308.7" y="18.5" font-size="12.6" fill="#2a2e39" stroke="#2a2e39" textLength="27.1" lengthAdjust="spacingAndGlyphs">05:27</text>
<text x="339.35" y="18.5" font-size="12.6" fill="#2a2e39" stroke="#2a2e39" textLength="20.55" lengthAdjust="spacingAndGlyphs">UTC</text>
<text x="16.85" y="44" font-size="11.2" fill="#2a2e39" stroke="#2a2e39" textLength="27.95" lengthAdjust="spacingAndGlyphs">Silver</text>
<text x="49.5" y="44" font-size="11.2" fill="#2a2e39" stroke="#2a2e39">/</text>
<text x="57.35" y="44" font-size="11.2" fill="#2a2e39" stroke="#2a2e39" textLength="20.8" lengthAdjust="spacingAndGlyphs">U.S.</text>
<text x="82.1" y="44" font-size="11.2" fill="#2a2e39" stroke="#2a2e39" textLength="29.55" lengthAdjust="spacingAndGlyphs">Dollar</text>
<text x="114.9" y="44" font-size="11.2" fill="#2a2e39" stroke="#2a2e39">·</text>
<text x="122.35" y="44" font-size="11.2" fill="#2a2e39" stroke="#2a2e39" textLength="12.05" lengthAdjust="spacingAndGlyphs">4h</text>
<text x="137.5" y="44" font-size="11.2" fill="#2a2e39" stroke="#2a2e39">·</text>
<text x="145.2" y="44" font-size="11.2" fill="#2a2e39" stroke="#2a2e39" textLength="39.2" lengthAdjust="spacingAndGlyphs">FXOPEN</text>
<text x="190.85" y="44" font-size="11.2" fill="#2a2e39" stroke="#2a2e39" textLength="7.6" lengthAdjust="spacingAndGlyphs">O</text>
<text x="199" y="44" font-size="11.2" fill="#1aa08a" stroke="#1aa08a" textLength="33.3" lengthAdjust="spacingAndGlyphs">35.964</text>
<text x="238.9" y="44" font-size="11.2" fill="#2a2e39" stroke="#2a2e39" textLength="7.4" lengthAdjust="spacingAndGlyphs">H</text>
<text x="246.6" y="44" font-size="11.2" fill="#1aa08a" stroke="#1aa08a" textLength="33.3" lengthAdjust="spacingAndGlyphs">36.173</text>
<text x="286.4" y="44" font-size="11.2" fill="#2a2e39" stroke="#2a2e39" textLength="5.4" lengthAdjust="spacingAndGlyphs">L</text>
<text x="292.5" y="44" font-size="11.2" fill="#1aa08a" stroke="#1aa08a" textLength="33.1" lengthAdjust="spacingAndGlyphs">35.961</text>
<text x="332.1" y="44" font-size="11.2" fill="#2a2e39" stroke="#2a2e39" textLength="6.8" lengthAdjust="spacingAndGlyphs">C</text>
<text x="339.35" y="44" font-size="11.2" fill="#1aa08a" stroke="#1aa08a" textLength="33.1" lengthAdjust="spacingAndGlyphs">36.157</text>
<text x="379.7" y="44" font-size="11.2" fill="#1aa08a" stroke="#1aa08a" textLength="33.3" lengthAdjust="spacingAndGlyphs">+0.190</text>
<text x="416.4" y="44" font-size="11.2" fill="#1aa08a" stroke="#1aa08a" textLength="42.7" lengthAdjust="spacingAndGlyphs">(+0.53%)</text>
<text x="17.5" y="59.75" font-size="11.2" fill="#2a2e39" stroke="#2a2e39" textLength="14.5" lengthAdjust="spacingAndGlyphs">Vol</text>
<text x="38.6" y="59.75" font-size="11.2" fill="#26a69a" stroke="#26a69a" textLength="30.8" lengthAdjust="spacingAndGlyphs">4.25 K</text>
<text x="973.1" y="66.2" font-size="10.8" fill="#2a2e39" stroke="#2a2e39" textLength="33.4" lengthAdjust="spacingAndGlyphs">37.500</text>
<text x="973.1" y="116" font-size="10.8" fill="#2a2e39" stroke="#2a2e39" textLength="33.4" lengthAdjust="spacingAndGlyphs">37.000</text>
<text x="973.1" y="165" font-size="10.8" fill="#2a2e39" stroke="#2a2e39" textLength="33.4" lengthAdjust="spacingAndGlyphs">36.500</text>
<text x="973.1" y="263.8" font-size="10.8" fill="#2a2e39" stroke="#2a2e39" textLength="33.4" lengthAdjust="spacingAndGlyphs">35.500</text>
<text x="973.1" y="313.2" font-size="10.8" fill="#2a2e39" stroke="#2a2e39" textLength="33.4" lengthAdjust="spacingAndGlyphs">35.000</text>
<text x="973.1" y="362.1" font-size="10.8" fill="#2a2e39" stroke="#2a2e39" textLength="33.4" lengthAdjust="spacingAndGlyphs">34.500</text>
<text x="973.1" y="412.1" font-size="10.8" fill="#2a2e39" stroke="#2a2e39" textLength="33.4" lengthAdjust="spacingAndGlyphs">34.000</text>
<text x="973.1" y="461.4" font-size="10.8" fill="#2a2e39" stroke="#2a2e39" textLength="33.4" lengthAdjust="spacingAndGlyphs">33.500</text>
<text x="973.1" y="510.8" font-size="10.8" fill="#2a2e39" stroke="#2a2e39" textLength="33.4" lengthAdjust="spacingAndGlyphs">33.000</text>
<text x="973.1" y="560.2" font-size="10.8" fill="#2a2e39" stroke="#2a2e39" textLength="33.4" lengthAdjust="spacingAndGlyphs">32.500</text>
<text x="973.3" y="198.9" font-size="11" fill="#fff" stroke="#fff" textLength="33.7" lengthAdjust="spacingAndGlyphs">36.157</text>
<text x="973.3" y="212.5" font-size="11" fill="#fff" stroke="#fff" textLength="28" lengthAdjust="spacingAndGlyphs" fill-opacity="0.8">32:50</text>
<text x="973" y="579" font-size="10.8" fill="#fff" stroke="#fff" textLength="31" lengthAdjust="spacingAndGlyphs">4.25 K</text>
<text x="31.76" y="600.3" font-size="10.6" fill="#2a2e39" stroke="#2a2e39" text-anchor="middle" textLength="11.5" lengthAdjust="spacingAndGlyphs">23</text>
<text x="99" y="600.3" font-size="10.6" fill="#2a2e39" stroke="#2a2e39" text-anchor="middle" textLength="11.5" lengthAdjust="spacingAndGlyphs">27</text>
<text x="166.23" y="600.3" font-size="10.6" fill="#2a2e39" stroke="#2a2e39" text-anchor="middle" textLength="11.5" lengthAdjust="spacingAndGlyphs">29</text>
<text x="227.86" y="600.3" font-size="10.9" fill="#2a2e39" stroke="#2a2e39" text-anchor="middle" textLength="18.8" lengthAdjust="spacingAndGlyphs" font-weight="bold">Jun</text>
<text x="300.7" y="600.3" font-size="10.6" fill="#2a2e39" stroke="#2a2e39" text-anchor="middle">4</text>
<text x="367.94" y="600.3" font-size="10.6" fill="#2a2e39" stroke="#2a2e39" text-anchor="middle">6</text>
<text x="435.17" y="600.3" font-size="10.6" fill="#2a2e39" stroke="#2a2e39" text-anchor="middle" textLength="11.5" lengthAdjust="spacingAndGlyphs">10</text>
<text x="502.41" y="600.3" font-size="10.6" fill="#2a2e39" stroke="#2a2e39" text-anchor="middle" textLength="11.5" lengthAdjust="spacingAndGlyphs">12</text>
<text x="564.04" y="600.3" font-size="10.6" fill="#2a2e39" stroke="#2a2e39" text-anchor="middle" textLength="11.5" lengthAdjust="spacingAndGlyphs">15</text>
<text x="636.88" y="600.3" font-size="10.6" fill="#2a2e39" stroke="#2a2e39" text-anchor="middle" textLength="11.5" lengthAdjust="spacingAndGlyphs">18</text>
<text x="704.12" y="600.3" font-size="10.6" fill="#2a2e39" stroke="#2a2e39" text-anchor="middle" textLength="11.5" lengthAdjust="spacingAndGlyphs">20</text>
<text x="771.36" y="600.3" font-size="10.6" fill="#2a2e39" stroke="#2a2e39" text-anchor="middle" textLength="11.5" lengthAdjust="spacingAndGlyphs">24</text>
<text x="838.59" y="600.3" font-size="10.6" fill="#2a2e39" stroke="#2a2e39" text-anchor="middle" textLength="11.5" lengthAdjust="spacingAndGlyphs">26</text>
<text x="939.45" y="600.3" font-size="10.9" fill="#2a2e39" stroke="#2a2e39" text-anchor="middle" textLength="15.6" lengthAdjust="spacingAndGlyphs" font-weight="bold">Jul</text>
<text x="31.9" y="629.75" font-size="11.8" fill="#2a2e39" stroke="#2a2e39" textLength="65" lengthAdjust="spacingAndGlyphs">TradingView</text>
</g>
</svg>
</body></html>
